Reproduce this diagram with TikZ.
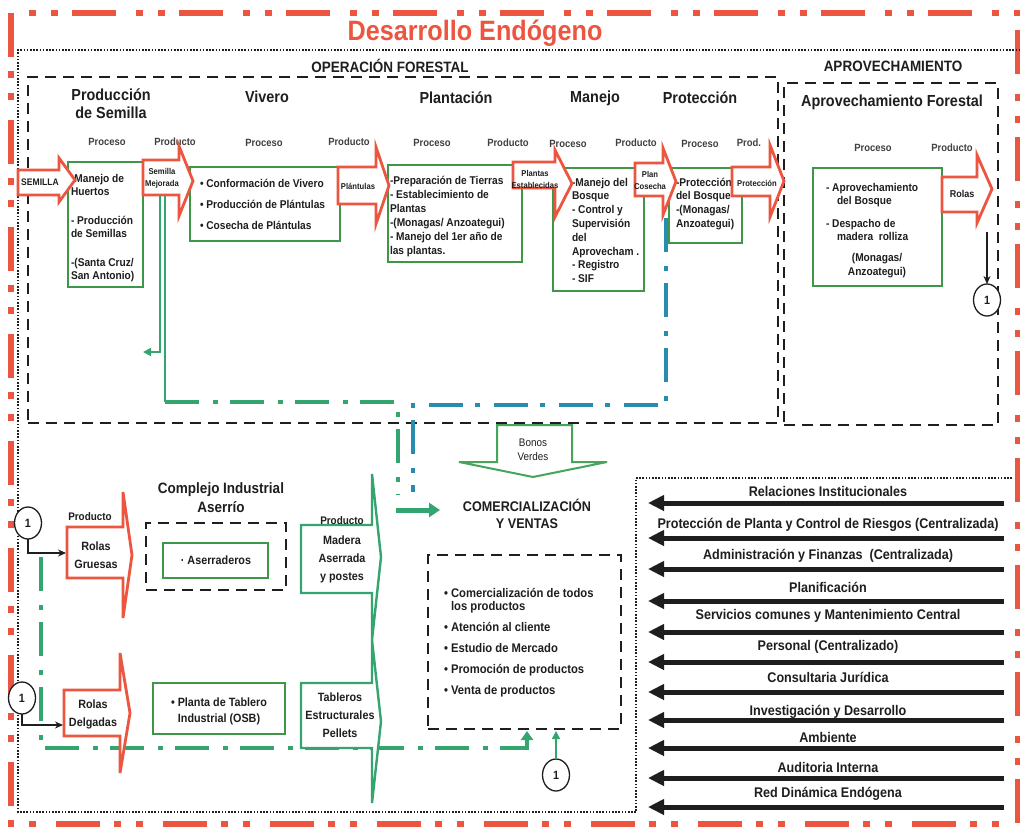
\documentclass[tikz,border=0pt]{standalone}
\usepackage{fontspec}
\setmainfont{Liberation Sans}[FakeStretch=0.9]
\usetikzlibrary{arrows.meta,shapes.geometric}
\definecolor{redc}{RGB}{236,86,64}
\definecolor{boxgreen}{RGB}{62,150,70}
\definecolor{flowgreen}{RGB}{52,165,110}
\definecolor{bonogreen}{RGB}{70,165,90}
\definecolor{flowteal}{RGB}{40,140,175}
\definecolor{inkc}{RGB}{30,30,30}

% block arrow: style, left x, neck x, tip x, body top, body bottom, head top, head bottom
\newcommand{\blockarrow}[8]{%
  \draw[#1] (#2,#5) -- (#3,#5) -- (#3,#7) -- (#4,{(#7+#8)/2}) -- (#3,#8) -- (#3,#6) -- (#2,#6) -- cycle;}

\tikzset{
  every node/.style={inner sep=0pt, outer sep=0pt, text=inkc},
  frameRed/.style={draw=redc, line width=6.5pt, dash pattern=on 44pt off 14pt on 7pt off 15pt on 7pt off 20pt},
  frameDot/.style={draw=inkc, line width=1.6pt, dash pattern=on 1.6pt off 1.6pt},
  sectBox/.style={draw=inkc, line width=2.8pt, dash pattern=on 11pt off 7pt, rectangle},
  procBox/.style={draw=boxgreen, line width=2.6pt, rectangle},
  redArr/.style={draw=redc, line width=2.8pt, fill=white, line join=miter},
  grnArr/.style={draw=flowgreen, line width=2.4pt, fill=white, line join=miter},
  bonoArr/.style={draw=bonogreen, line width=2pt, fill=white, line join=miter},
  dashdot/.style={line width=4.5pt, dash pattern=on 34pt off 14pt on 5pt off 12pt},
  hdr/.style={font=\bfseries\fontsize{16}{18}\selectfont, align=center},
  colTag/.style={font=\bfseries\fontsize{10.5}{12}\selectfont, text=inkc!85},
  boxText/.style={font=\bfseries\fontsize{11.3}{13.5}\selectfont, align=left, anchor=north west},
  arrLbl/.style={font=\bfseries\fontsize{8.5}{12}\selectfont, align=center},
  lowLbl/.style={font=\bfseries\fontsize{12}{18}\selectfont, align=center},
  suppLbl/.style={font=\bfseries\fontsize{14}{16}\selectfont},
  suppArr/.style={draw=inkc, line width=5pt, -{Triangle[length=16pt,width=15pt]}},
  oneMark/.style={draw=inkc, line width=1.3pt, ellipse, minimum width=27pt, minimum height=32pt,
    fill=white, font=\bfseries\fontsize{12}{14}\selectfont},
  thinArr/.style={draw=inkc, line width=1.4pt, -{Stealth[length=8pt,width=7pt]}},
}

\begin{document}
\begin{tikzpicture}[x=1pt,y=-1pt]
\useasboundingbox (0,0) rectangle (1020,833);
\fill[white] (0,0) rectangle (1020,833);

% ---------- frames ----------
\draw[frameRed] (11,13) rectangle (1018,824);
\draw[frameDot] (636,812) -- (18,812) -- (18,50) -- (1020,50);
\draw[frameDot] (1012,478) -- (636,478) -- (636,812);

\node[font=\bfseries\fontsize{28}{30}\selectfont, text=redc] (title) at (475,33) {Desarrollo Endógeno};
\node[font=\bfseries\fontsize{15}{17}\selectfont] (opTitle) at (390,66) {OPERACIÓN FORESTAL};
\node[font=\bfseries\fontsize{15}{17}\selectfont] (apTitle) at (893,66) {APROVECHAMIENTO};

\node[sectBox, minimum width=750pt, minimum height=346pt] (dOp) at (403,250) {};
\node[sectBox, minimum width=214pt, minimum height=342pt] (dAp) at (891,254) {};

% ---------- stage headers ----------
\node[hdr] (hSem) at (111,104) {Producción\\de Semilla};
\node[hdr] (hViv) at (267,97) {Vivero};
\node[hdr] (hPla) at (456,98) {Plantación};
\node[hdr] (hMan) at (595,98) {Manejo};
\node[hdr] (hPro) at (700,98) {Protección};
\node[hdr] (hApr) at (892,102) {Aprovechamiento Forestal};

\node[colTag] (k1) at (107,142) {Proceso};
\node[colTag] (k2) at (175,142) {Producto};
\node[colTag] (k3) at (264,143) {Proceso};
\node[colTag] (k4) at (349,142) {Producto};
\node[colTag] (k5) at (432,143) {Proceso};
\node[colTag] (k6) at (508,143) {Producto};
\node[colTag] (k7) at (568,144) {Proceso};
\node[colTag] (k8) at (636,143) {Producto};
\node[colTag] (k9) at (700,144) {Proceso};
\node[colTag] (k10) at (749,143) {Prod.};
\node[colTag] (k11) at (873,148) {Proceso};
\node[colTag] (k12) at (952,148) {Producto};

% ---------- process boxes ----------
\node[procBox, minimum width=75pt, minimum height=125pt] (bSem) at (105.5,224.5) {};
\node[procBox, minimum width=150pt, minimum height=74pt] (bViv) at (265,204) {};
\node[procBox, minimum width=134pt, minimum height=97pt] (bPla) at (455,213.5) {};
\node[procBox, minimum width=91pt, minimum height=123pt] (bMan) at (598.5,229.5) {};
\node[procBox, minimum width=73pt, minimum height=75pt] (bPro) at (705.5,205.5) {};
\node[procBox, minimum width=129pt, minimum height=118pt] (bApr) at (877.5,227) {};

\node[boxText] (tSem) at (71,174) {-Manejo de\\Huertos\\[15pt]- Producción\\de Semillas\\[15pt]-(Santa Cruz/\\San Antonio)};
\node[boxText, font=\bfseries\fontsize{11.3}{21}\selectfont] (tViv) at (200,179) {• Conformación de Vivero\\• Producción de Plántulas\\• Cosecha de Plántulas};
\node[boxText, font=\bfseries\fontsize{11.3}{14}\selectfont] (tPla) at (390,176) {-Preparación de Tierras\\- Establecimiento de\\Plantas\\-(Monagas/ Anzoategui)\\- Manejo del 1er año de\\las plantas.};
\node[boxText, font=\bfseries\fontsize{11.3}{13.8}\selectfont] (tMan) at (572,178) {-Manejo del\\Bosque\\- Control y\\Supervisión\\del\\Aprovecham .\\- Registro\\- SIF};
\node[boxText, font=\bfseries\fontsize{11.3}{13.6}\selectfont] (tPro) at (676,178) {-Protección\\del Bosque\\-(Monagas/\\Anzoategui)};
\node[boxText] (tApr) at (826,183) {- Aprovechamiento\\\hspace*{11pt}del Bosque\\[9pt]- Despacho de\\\hspace*{11pt}madera\ \ rolliza};
\node[font=\bfseries\fontsize{11.3}{14}\selectfont, align=center] (tAprZ) at (877,266) {(Monagas/\\Anzoategui)};

% ---------- product arrows ----------
\blockarrow{redArr}{18}{59}{75}{170}{195}{158}{202}
\blockarrow{redArr}{143}{179}{193}{160}{195}{146}{216}
\blockarrow{redArr}{338}{376}{389}{167}{204}{147}{224}
\blockarrow{redArr}{513}{555}{572}{162}{188}{150}{217}
\blockarrow{redArr}{635}{663}{676}{163}{196}{148}{215}
\blockarrow{redArr}{732}{770}{784}{167}{196}{145}{217}
\blockarrow{redArr}{942}{977}{992}{177}{212}{155}{223}

\node[arrLbl, font=\bfseries\fontsize{9.5}{12}\selectfont] (aSem) at (40,182) {SEMILLA};
\node[arrLbl] (aMej) at (162,178) {Semilla\\Mejorada};
\node[arrLbl] (aPlt) at (358,186) {Plántulas};
\node[arrLbl] (aEst) at (535,179) {Plantas\\Establecidas};
\node[arrLbl] (aCos) at (650,180) {Plan\\Cosecha};
\node[arrLbl] (aPrt) at (757,183) {Protección};
\node[arrLbl, font=\bfseries\fontsize{10}{12}\selectfont] (aRol) at (962,194) {Rolas};

% ---------- flows inside the forestry section ----------
\draw[flowgreen, line width=1.8pt, -{Triangle[length=8pt,width=8pt]}] (160,196) |- (143,352);
\draw[flowgreen, line width=1.8pt] (165,196) -- (165,402);
\draw[flowgreen, dashdot] (165,402) -- (398,402) -- (398,495);
\draw[flowteal, dashdot] (666,218) -- (666,405) -- (413,405) -- (413,492);

\node[oneMark] (c3) at (987,300) {1};
\draw[thinArr] (987,232) -- (c3.north);

% ---------- green credits ----------
\draw[bonoArr] (497,425) -- (572,425) -- (572,462) -- (607,462) -- (533,477) -- (459,462) -- (497,462) -- cycle;
\node[font=\fontsize{11}{14.5}\selectfont, align=center] (bonos) at (533,450) {Bonos\\Verdes};

\node[font=\bfseries\fontsize{14}{17.5}\selectfont, align=center] (comm) at (527,514) {COMERCIALIZACIÓN\\Y VENTAS};
\coordinate (commIn) at (440,510);
\draw[flowgreen, line width=5pt, -{Triangle[length=11pt,width=14pt]}] (396,510) -- (commIn);

% ---------- industrial complex ----------
\node[oneMark] (c1) at (28,523) {1};
\node[oneMark] (c2) at (22,698) {1};

\draw[flowgreen, dashdot] (41,557) |- (505,748);
\blockarrow{redArr}{67}{123}{132}{527}{578}{492}{618}
\blockarrow{redArr}{64}{120}{130}{690}{736}{653}{773}
\node[font=\bfseries\fontsize{11}{13}\selectfont] (pLbl) at (90,517) {Producto};
\node[lowLbl] (rGru) at (96,555) {Rolas\\Gruesas};
\node[lowLbl] (rDel) at (93,714) {Rolas\\Delgadas};
\draw[thinArr] (c1.south) |- (66,553);
\draw[thinArr] (c2.south) |- (63,725);

\node[hdr, font=\bfseries\fontsize{15}{19}\selectfont] (hCom) at (221,498) {Complejo Industrial\\Aserrío};
\node[sectBox, minimum width=140pt, minimum height=67pt] (dAse) at (216,556.5) {};
\node[procBox, minimum width=105pt, minimum height=35pt] (bAse) at (215.5,560.5) {};
\node[font=\bfseries\fontsize{12}{14}\selectfont] (tAse) at (216,560) {· Aserraderos};
\node[procBox, minimum width=132pt, minimum height=51pt] (bOsb) at (219,708.5) {};
\node[font=\bfseries\fontsize{12}{16}\selectfont, align=center] (tOsb) at (219,711) {• Planta de Tablero\\Industrial (OSB)};

\blockarrow{grnArr}{301}{372}{381}{525}{593}{474}{640}
\blockarrow{grnArr}{301}{372}{381}{683}{748}{640}{803}
\node[font=\bfseries\fontsize{11}{13}\selectfont] (pLbl2) at (342,521) {Producto};
\node[lowLbl] (tMad) at (342,559) {Madera\\Aserrada\\y postes};
\node[lowLbl] (tTab) at (340,715) {Tableros\\Estructurales\\Pellets};

% ---------- sales ----------
\node[sectBox, minimum width=193pt, minimum height=174pt] (dCom) at (524.5,642) {};
\node[boxText, font=\bfseries\fontsize{12.5}{13}\selectfont] (tCom) at (444,588) {• Comercialización de todos\\\hspace*{7pt}los productos\\[8pt]• Atención al cliente\\[8pt]• Estudio de Mercado\\[8pt]• Promoción de productos\\[8pt]• Venta de productos};
\coordinate (comInA) at (527,731);
\draw[flowgreen, line width=4.5pt, -{Triangle[length=9pt,width=12pt]}] (505,748) -| (comInA);
\node[oneMark] (c4) at (556,775) {1};
\draw[flowgreen, line width=1.6pt, -{Triangle[length=8pt,width=8pt]}] (c4.north) -- (556,731);

% ---------- support functions ----------
\foreach \lab/\ly/\ay [count=\i] in {
  Relaciones Institucionales/491/503,
  Protección de Planta y Control de Riesgos (Centralizada)/525/538,
  Administración y Finanzas\ \ (Centralizada)/556/569,
  Planificación/587/601,
  Servicios comunes y Mantenimiento Central/616/632,
  Personal (Centralizado)/647/662,
  Consultaria Jurídica/677/692,
  Investigación y Desarrollo/712/720,
  Ambiente/737/748,
  Auditoria Interna/767/778,
  Red Dinámica Endógena/794/807}{
  \node[suppLbl] (s\i) at (828,\ly) {\lab};
  \coordinate (sa\i) at (1004,\ay);
  \coordinate (sb\i) at (648,\ay);
  \draw[suppArr] (sa\i) -- (sb\i);
}
\end{tikzpicture}
\end{document}
